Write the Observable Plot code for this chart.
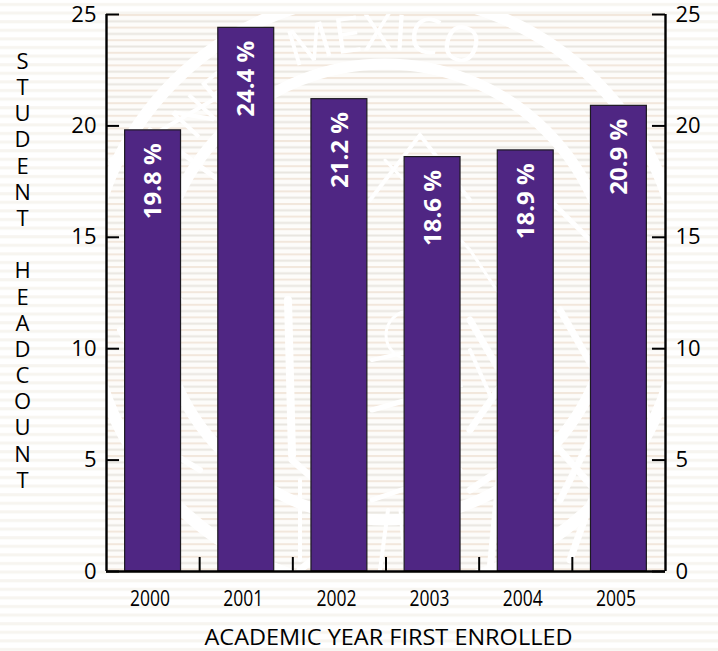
<!DOCTYPE html>
<html><head><meta charset="utf-8">
<script src="https://cdn.jsdelivr.net/npm/d3@7"></script>
<script src="https://cdn.jsdelivr.net/npm/@observablehq/plot@0.6"></script>
<style>
html,body{margin:0;padding:0;background:#fff;overflow:hidden}
svg{display:block}
</style></head><body><div id="chart"></div>
<script>
const years = [2000, 2001, 2002, 2003, 2004, 2005];
const headcount = [19.8, 24.4, 21.2, 18.6, 18.9, 20.9];
const yTicks = [0, 5, 10, 15, 20, 25];
const boundaries = [2000.5, 2001.5, 2002.5, 2003.5, 2004.5];
const yLabel = "STUDENT HEADCOUNT";
const xLabel = "ACADEMIC YEAR FIRST ENROLLED";
const rows = years.map((year, i) => ({year, value: headcount[i]}));

const NS = "http://www.w3.org/2000/svg";
function el(name, attrs, parent) {
  const e = document.createElementNS(NS, name);
  for (const k in attrs) e.setAttribute(k, attrs[k]);
  if (parent) parent.appendChild(e);
  return e;
}
// Decorative watermark behind the chart (stripes and a university seal)
function backdrop(index, scales, values, dim) {
  const g = el("g", {"aria-label": "backdrop"});
  const defs = el("defs", {}, g);
  const outer = el("pattern", {id:"outerStripes", width:8, height:8.6, patternUnits:"userSpaceOnUse"}, defs);
  el("rect", {width:8, height:8.6, fill:"#ffffff"}, outer);
  el("rect", {y:3, width:8, height:3, fill:"#f7f5f0"}, outer);
  const inner = el("pattern", {id:"innerStripes", width:8, height:12.6, patternUnits:"userSpaceOnUse", y:dim.marginTop}, defs);
  el("rect", {width:8, height:12.6, fill:"#fdfcfa"}, inner);
  el("rect", {y:0, width:8, height:2, fill:"#f2e7dc"}, inner);
  el("rect", {y:6.3, width:8, height:2, fill:"#e9e6e0"}, inner);
  const L = dim.marginLeft, T = dim.marginTop, W = dim.width - L - dim.marginRight, H = dim.height - T - dim.marginBottom;
  const clip = el("clipPath", {id:"frameClip"}, defs);
  el("rect", {x:L, y:T, width:W, height:H}, clip);
  el("path", {id:"sealArc", d:"M 143 292 A 242 242 0 0 1 627 292", fill:"none"}, defs);
  el("rect", {width:dim.width, height:dim.height, fill:"url(#outerStripes)"}, g);
  el("rect", {x:L, y:T, width:W, height:H, fill:"url(#innerStripes)"}, g);
  const seal = el("g", {"clip-path":"url(#frameClip)", fill:"none", stroke:"#fff", "stroke-linecap":"round"}, g);
  el("circle", {cx:385, cy:292, r:298, "stroke-width":12}, seal);
  el("circle", {cx:385, cy:292, r:228, "stroke-width":11}, seal);
  const strokes = [
    ["M288 300 L292 455", 8], ["M120 330 L170 420 L125 500", 6], ["M200 470 L150 440", 6],
    ["M180 300 L125 390", 5], ["M292 460 L360 520 L300 570", 7], ["M300 560 L300 480", 4],
    ["M372 360 L460 340", 4], ["M372 410 L460 385 L440 300", 5], ["M372 500 L460 470", 5],
    ["M380 570 L388 510", 4], ["M405 570 L400 510", 3], ["M440 570 L450 515", 3],
    ["M470 320 L505 380 L470 430", 7], ["M470 490 L500 470 L490 570", 7], ["M470 350 L490 395", 4],
    ["M560 310 L600 380 L590 440 L560 500", 7], ["M560 450 L595 490 L570 560", 7],
    ["M370 200 L420 135 L470 200", 4], ["M385 160 L470 250 L510 310", 3], ["M150 130 L260 210", 5],
    ["M110 160 L230 90", 4], ["M550 200 L640 290", 5], ["M600 250 L650 420", 4]
  ];
  for (const [d, w] of strokes) el("path", {d, "stroke-width":w}, seal);
  el("circle", {cx:410, cy:335, r:24, "stroke-width":3}, seal);
  const t = el("text", {fill:"#fff", stroke:"none", "font-family":"'Open Sans',sans-serif", "font-size":50, "clip-path":"url(#frameClip)", "aria-hidden":"true"}, g);
  const tp = el("textPath", {href:"#sealArc", startOffset:472, "text-anchor":"end"}, t);
  tp.textContent = "NEW MEXICO";
  return g;
}

const font = "'Open Sans', sans-serif";
const plot = Plot.plot({
  width: 718, height: 651,
  marginLeft: 106, marginRight: 53, marginTop: 14, marginBottom: 80,
  style: {background: "transparent", fontFamily: font, color: "#000", overflow: "visible"},
  x: {domain: [1999.5, 2005.5], label: null, axis: null},
  y: {domain: [0, 25], label: null},
  marks: [
    backdrop,
    Plot.rectY(rows, {x1: d => d.year - 0.3, x2: d => d.year + 0.3, y1: 0, y2: "value", fill: "#4f2683", stroke: "#1d1a22", strokeWidth: 1.2}),
    Plot.text(rows, {x: "year", y: "value", text: d => d.value.toFixed(1) + " %", rotate: -90, textAnchor: "end", lineAnchor: "middle", dx: 0.5, dy: 13, fill: "#fff", fontWeight: 700, fontSize: 24, fontFamily: font}),
    Plot.ruleX([1999.5, 2005.5], {x: d => d, y1: 0, y2: 25, stroke: "#000", strokeWidth: 2.4}),
    Plot.ruleY([0], {x1: 1999.5, x2: 2005.5, y: d => d, stroke: "#000", strokeWidth: 2.4}),
    Plot.ruleY(yTicks, {y: d => d, x1: 1999.5, x2: 1999.64, stroke: "#000", strokeWidth: 2}),
    Plot.ruleY(yTicks, {y: d => d, x1: 2005.36, x2: 2005.5, stroke: "#000", strokeWidth: 2}),
    Plot.ruleX(boundaries, {x: d => d, y1: 0, y2: 0.63, stroke: "#000", strokeWidth: 2}),
    Plot.axisY({anchor: "left", ticks: yTicks, tickSize: 0, tickPadding: 10, fontSize: 22, label: null}),
    Plot.axisY({anchor: "right", ticks: yTicks, tickSize: 0, tickPadding: 10, fontSize: 22, label: null}),
    Plot.text(years, {x: d => d, frameAnchor: "bottom", dy: 34, dx: -3, text: d => String(d), fontSize: 22, fill: "#000"}),
    Plot.text([xLabel], {frameAnchor: "bottom", dy: 73, dx: 2.5, text: d => d, fontSize: 21.5, fill: "#000"}),
    Plot.text([yLabel], {
      text: d => [...d].join("\n"), frameAnchor: "left", dx: -84, dy: -23, lineHeight: 1.19, fontSize: 22, textAnchor: "middle", fill: "#000"})
  ]
});
document.getElementById("chart").appendChild(plot);
// condense the x-axis texts to the widths they have in the reference
for (const t of plot.querySelectorAll("text")) {
  const s = t.textContent;
  if (s === xLabel) { t.setAttribute("textLength", 368); t.setAttribute("lengthAdjust", "spacingAndGlyphs"); }
  if (years.map(String).includes(s)) { t.setAttribute("textLength", 40); t.setAttribute("lengthAdjust", "spacingAndGlyphs"); }
}
</script></body></html>
